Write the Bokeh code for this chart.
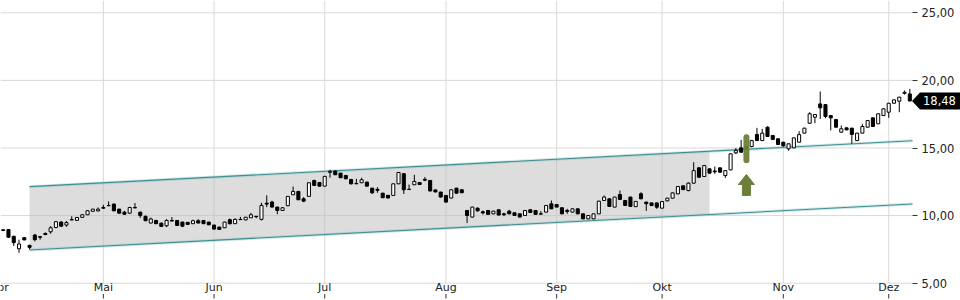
from bokeh.plotting import figure
from bokeh.models import Range1d, FixedTicker, Label, ColumnDataSource, LinearAxis
from bokeh.embed import file_html
from bokeh.resources import INLINE

# ---- data (daily OHLC, trading-day index) ----
opens = [8.95, 8.97, 8.47, 7.55, 8.37, 7.80, 8.56, 8.44, 8.68, 8.80,
         9.12, 9.52, 9.30, 9.70, 9.65, 9.87, 10.06, 10.32, 10.35, 10.60,
         10.75, 10.85, 10.48, 10.25, 10.18, 10.60, 10.25, 9.95, 9.45, 9.64,
         9.44, 9.25, 9.64, 9.64, 9.52, 9.50, 9.40, 9.62, 9.64, 9.52,
         9.30, 9.15, 9.10, 9.70, 9.40, 9.72, 9.68, 9.84, 9.95, 9.72,
         10.92, 11.00, 10.63, 10.38, 10.73, 11.54, 11.79, 11.24, 11.42, 12.60,
         12.45, 12.18, 13.20, 13.29, 13.14, 12.97, 12.67, 12.38, 12.43, 12.48,
         12.03, 11.94, 11.66, 11.50, 11.49, 12.35, 13.10, 11.95, 12.28, 12.45,
         12.68, 12.60, 11.90, 11.74, 11.49, 11.30, 12.03, 11.91, 10.38, 9.89,
         10.55, 10.28, 10.38, 10.13, 10.43, 10.13, 10.33, 10.21, 10.13, 10.01,
         10.43, 10.38, 10.13, 10.26, 10.87, 10.82, 10.58, 10.38, 10.26, 10.50,
         10.13, 9.76, 9.76, 10.13, 11.12, 11.24, 10.63, 11.56, 11.12, 11.37,
         10.66, 11.61, 11.00, 10.94, 10.94, 10.55, 11.09, 11.29, 11.61, 12.20,
         11.85, 12.40, 13.53, 12.89, 13.46, 13.30, 13.53, 12.96, 13.38, 14.64,
         15.01, 15.10, 15.11, 16.00, 15.55, 16.54, 15.92, 15.68, 15.43, 14.94,
         15.01, 15.43, 16.10, 16.83, 17.28, 18.26, 18.21, 17.40, 17.10, 16.17,
         16.49, 16.47, 15.55, 16.10, 16.54, 17.23, 16.79, 17.40, 17.65, 18.31,
         18.46, 19.04, 19.00]
highs = [8.97, 9.00, 8.50, 8.22, 8.38, 7.85, 8.65, 8.46, 8.75, 9.22,
         9.60, 9.60, 9.60, 9.95, 9.90, 10.10, 10.38, 10.50, 10.60, 10.80,
         11.05, 10.90, 10.50, 10.35, 10.65, 10.93, 10.30, 10.00, 9.85, 9.68,
         9.48, 9.74, 9.89, 9.66, 9.55, 9.52, 9.70, 9.74, 9.66, 9.54,
         9.32, 9.17, 9.55, 9.78, 9.80, 9.90, 9.90, 10.20, 9.96, 10.95,
         11.50, 11.10, 10.66, 10.62, 11.45, 12.15, 11.82, 11.37, 12.45, 12.65,
         12.48, 12.95, 13.39, 13.35, 13.16, 12.99, 12.72, 12.72, 12.80, 12.50,
         12.05, 12.10, 11.68, 11.52, 12.37, 13.20, 13.12, 12.30, 13.02, 12.47,
         12.85, 12.62, 11.92, 11.76, 11.51, 11.93, 12.05, 11.93, 10.40, 10.65,
         10.60, 10.38, 10.40, 10.35, 10.45, 10.21, 10.43, 10.23, 10.15, 10.40,
         10.48, 10.40, 10.33, 10.77, 11.12, 10.84, 10.60, 10.50, 10.52, 10.52,
         10.15, 10.03, 10.15, 11.09, 11.49, 11.26, 11.39, 11.86, 11.14, 11.39,
         11.06, 11.73, 11.02, 10.96, 10.96, 11.06, 11.31, 11.70, 12.17, 12.22,
         12.45, 13.95, 13.60, 13.75, 13.48, 13.63, 13.55, 13.35, 14.59, 15.00,
         15.60, 15.20, 15.60, 16.49, 16.42, 16.60, 15.94, 15.70, 15.45, 15.33,
         15.77, 16.24, 16.49, 17.65, 17.50, 19.18, 18.25, 17.42, 17.12, 16.66,
         16.51, 16.49, 16.12, 16.79, 17.05, 17.25, 17.55, 17.92, 18.33, 18.58,
         18.78, 19.25, 19.37]
lows = [8.85, 8.35, 7.75, 7.25, 8.18, 7.50, 8.10, 8.22, 8.55, 8.66,
        9.06, 9.17, 9.17, 9.66, 9.60, 9.85, 10.04, 10.30, 10.30, 10.50,
        10.70, 10.33, 10.15, 10.05, 10.13, 10.55, 9.83, 9.60, 9.43, 9.38,
        9.18, 9.15, 9.57, 9.25, 9.15, 9.32, 9.38, 9.43, 9.38, 9.30,
        8.98, 8.95, 9.08, 9.35, 9.38, 9.68, 9.66, 9.82, 9.80, 9.64,
        10.63, 10.60, 10.10, 10.35, 10.70, 11.52, 11.15, 11.00, 11.40, 12.20,
        12.15, 12.15, 12.80, 13.00, 12.78, 12.70, 12.30, 12.33, 12.40, 12.16,
        11.60, 11.69, 11.30, 11.28, 11.47, 12.33, 11.60, 11.90, 12.26, 12.28,
        12.55, 11.80, 11.73, 11.35, 10.95, 11.28, 11.64, 11.67, 9.45, 9.87,
        10.30, 10.08, 10.07, 10.11, 10.02, 9.96, 10.11, 9.99, 9.87, 9.99,
        10.21, 10.07, 10.09, 10.24, 10.48, 10.61, 10.11, 10.13, 10.24, 10.11,
        9.74, 9.74, 9.74, 10.11, 11.10, 10.66, 10.61, 11.17, 10.73, 10.66,
        10.64, 11.22, 10.35, 10.72, 10.50, 10.53, 11.07, 11.27, 11.59, 11.90,
        11.80, 12.35, 12.80, 12.87, 13.12, 13.09, 13.19, 12.79, 13.36, 14.55,
        14.65, 14.85, 15.05, 15.53, 15.53, 15.83, 15.61, 15.24, 15.10, 14.80,
        14.99, 15.41, 16.08, 16.81, 16.83, 17.15, 17.20, 16.30, 16.52, 16.15,
        16.32, 15.31, 15.53, 16.08, 16.52, 16.57, 16.77, 17.38, 17.23, 18.29,
        17.65, 18.95, 18.45]
closes = [8.90, 8.40, 8.00, 7.90, 8.20, 7.65, 8.22, 8.40, 8.60, 9.10,
          9.55, 9.22, 9.48, 9.68, 9.86, 10.06, 10.36, 10.48, 10.48, 10.55,
          10.73, 10.35, 10.18, 10.10, 10.60, 10.57, 10.00, 9.62, 9.75, 9.40,
          9.20, 9.64, 9.60, 9.27, 9.22, 9.35, 9.62, 9.45, 9.40, 9.32,
          9.00, 8.98, 9.52, 9.40, 9.72, 9.70, 9.88, 10.06, 9.92, 10.75,
          10.85, 10.63, 10.38, 10.58, 11.42, 11.79, 11.17, 11.07, 12.43, 12.23,
          12.18, 12.90, 13.28, 13.02, 12.80, 12.72, 12.35, 12.35, 12.65, 12.18,
          11.69, 11.87, 11.32, 11.30, 12.35, 13.19, 11.91, 11.93, 12.53, 12.30,
          12.62, 11.82, 11.75, 11.37, 11.00, 11.91, 11.66, 11.69, 10.01, 10.63,
          10.35, 10.20, 10.09, 10.33, 10.04, 10.06, 10.13, 10.01, 9.89, 10.38,
          10.23, 10.09, 10.11, 10.75, 10.50, 10.63, 10.13, 10.31, 10.50, 10.13,
          9.76, 10.01, 10.13, 11.07, 11.37, 10.68, 11.37, 11.19, 10.75, 10.68,
          11.05, 11.24, 10.88, 10.74, 10.62, 11.04, 11.29, 11.68, 12.15, 11.92,
          12.40, 13.33, 12.84, 13.70, 13.14, 13.24, 13.21, 13.33, 14.57, 14.81,
          14.69, 15.00, 15.55, 15.55, 16.10, 15.85, 15.63, 15.26, 15.16, 15.31,
          15.75, 15.99, 16.47, 17.53, 17.48, 17.97, 17.33, 17.23, 16.54, 16.42,
          16.34, 16.00, 16.10, 16.59, 17.03, 16.59, 17.53, 17.90, 18.31, 18.56,
          18.76, 19.12, 18.48]

month_labels = ["Mai", "Jun", "Jul", "Aug", "Sep", "Okt", "Nov", "Dez"]
month_index = [19, 40, 61, 84, 105, 125, 148, 168]
first_month_label = "Apr"
first_month_index = -0.75

price_ticks = [5, 10, 15, 20, 25]
price_tick_labels = ["5,00", "10,00", "15,00", "20,00", "25,00"]
last_price_text = "18,48"

# trend channel
channel_start = 5
channel_fill_end = 134
channel_upper_start = 12.14
channel_lower_start = 7.46
channel_slope = 0.0203

# buy signal
signal_index = 141
signal_bar_top = 15.8
signal_bar_bottom = 14.1
signal_arrow_tip = 13.04
signal_arrow_base = 12.30
signal_arrow_bottom = 11.49

# ---- layout constants (pixel geometry of the chart area) ----
PX_PER_X = 5.271
PX_PER_Y = 13.52
X_OFF = 2.7            # pixel of the first candle
AXIS_PX = 912          # right edge of the price area
BASE_PX = 282.7        # pixel of the 5,00 line


def px2x(px):
    return (px - X_OFF) / PX_PER_X


def py2y(py):
    return 25 - (py - 12.3) / PX_PER_Y


X0 = px2x(0)
X_AXIS = px2x(AXIS_PX)
X_END = px2x(960)
Y_TOP = py2y(0)
Y_BOT = py2y(300)
Y0 = 5.0
LABEL_Y = py2y(BASE_PX - 2)
FONT = "DejaVu Sans"
TXT = "#222222"
GRID = "#d9d9d9"

n = len(closes)
xs = list(range(n))

p = figure(width=960, height=300, output_backend="svg", toolbar_location=None,
           x_range=Range1d(X0, X_END), y_range=Range1d(Y_BOT, Y_TOP),
           x_axis_location=None, y_axis_location=None,
           min_border_left=0, min_border_top=0, min_border_right=0, min_border_bottom=0)
p.outline_line_color = None
p.background_fill_color = "white"
p.border_fill_color = "white"
p.xgrid.visible = False
p.ygrid.visible = False

# grid lines (month starts and price ticks), limited to the price area
p.segment(x0=month_index, y0=[Y0] * len(month_index), x1=month_index,
          y1=[Y_TOP] * len(month_index), line_color=GRID, line_width=1)
p.segment(x0=[X0] * len(price_ticks), y0=price_ticks, x1=[X_AXIS] * len(price_ticks),
          y1=price_ticks, line_color=GRID, line_width=1)

# small month tick marks under the labels
p.segment(x0=month_index, y0=[py2y(293.5)] * len(month_index), x1=month_index,
          y1=[py2y(298)] * len(month_index), line_color="#333333", line_width=1)

# channel
def upper(i):
    return channel_upper_start + channel_slope * (i - channel_start)


def lower(i):
    return channel_lower_start + channel_slope * (i - channel_start)


fx = [channel_start, channel_fill_end, channel_fill_end, channel_start]
fy = [upper(channel_start), upper(channel_fill_end), lower(channel_fill_end), lower(channel_start)]
p.patch(fx, fy, fill_color="#bbbbbb", fill_alpha=0.5, line_color=None)

lx = [channel_start, X_AXIS]
for fn in (upper, lower):
    ly = [fn(v) for v in lx]
    p.line(lx, ly, line_color="#7fbcbc", line_width=3, line_alpha=0.35)
    p.line(lx, ly, line_color="#3f8f92", line_width=1.1)

# candles
up = [c >= o for o, c in zip(opens, closes)]
src = ColumnDataSource(dict(
    x=xs, o=opens, h=highs, l=lows, c=closes,
    top=[max(o, c) for o, c in zip(opens, closes)],
    bot=[min(o, c) for o, c in zip(opens, closes)],
    fill=["white" if u else "black" for u in up],
))
p.segment(x0="x", y0="h", x1="x", y1="l", source=src, line_color="black", line_width=1)
p.vbar(x="x", width=0.58, top="top", bottom="bot", source=src,
       fill_color="fill", line_color="black", line_width=1)

# signal bar + arrow
GREEN = "#6b7f3a"
p.segment(x0=[signal_index], y0=[signal_bar_bottom], x1=[signal_index], y1=[signal_bar_top],
          line_color=GREEN, line_width=6, line_cap="round", line_alpha=0.95)
hw = 8 / PX_PER_X
sw = 4 / PX_PER_X
ax = [signal_index, signal_index + hw, signal_index + sw, signal_index + sw,
      signal_index - sw, signal_index - sw, signal_index - hw]
ay = [signal_arrow_tip, signal_arrow_base, signal_arrow_base, signal_arrow_bottom,
      signal_arrow_bottom, signal_arrow_base, signal_arrow_base]
p.patch(ax, ay, fill_color=GREEN, line_color=GREEN, line_width=1)

# price axis, drawn at the right edge of the price area
yax = LinearAxis(fixed_location=X_AXIS, ticker=FixedTicker(ticks=price_ticks),
                 major_label_overrides={t: s for t, s in zip(price_ticks, price_tick_labels)},
                 axis_line_color=None, major_tick_out=5, major_tick_in=0,
                 minor_tick_out=0, minor_tick_in=0, major_tick_line_color="#333333",
                 major_label_standoff=4, major_label_text_font=FONT,
                 major_label_text_font_size="11.5px", major_label_text_color=TXT)
p.add_layout(yax, "right")

# month axis, drawn just under the 5,00 line
xax = LinearAxis(fixed_location=LABEL_Y, ticker=FixedTicker(ticks=month_index),
                 major_label_overrides={t: s for t, s in zip(month_index, month_labels)},
                 axis_line_color=None, major_tick_out=0, major_tick_in=0,
                 minor_tick_out=0, minor_tick_in=0, major_label_standoff=0,
                 major_label_text_font=FONT, major_label_text_font_size="11px",
                 major_label_text_color=TXT)
p.add_layout(xax, "below")

p.add_layout(Label(x=first_month_index, y=LABEL_Y, text=first_month_label, text_align="center",
                   text_baseline="top", y_offset=0, text_font=FONT,
                   text_font_size="11px", text_color=TXT))

# last price tag
last = closes[-1]
hh = 8.5 / PX_PER_Y
tag_x = [px2x(911.5), px2x(919.5), px2x(961), px2x(961), px2x(919.5)]
tag_y = [last, last + hh, last + hh, last - hh, last - hh]
p.patch(tag_x, tag_y, fill_color="black", line_color=None)
p.add_layout(Label(x=px2x(922.5), y=last, text=last_price_text, text_align="left",
                   text_baseline="middle", text_font=FONT, text_font_size="11.5px",
                   text_color="white"))

open("out.html", "w").write(file_html(p, INLINE))
